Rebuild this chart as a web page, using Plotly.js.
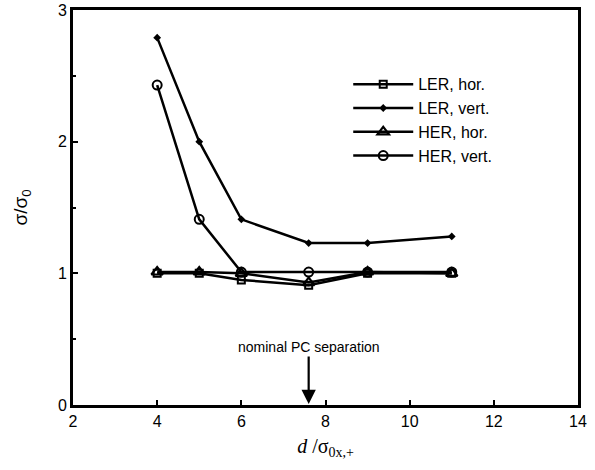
<!DOCTYPE html>
<html>
<head>
<meta charset="utf-8">
<script src="https://cdn.plot.ly/plotly-3.0.1.min.js"></script>
<style>html,body{margin:0;padding:0;background:#fff;}#chart{width:595px;height:470px;}</style>
</head>
<body>
<div id="chart"></div>
<script>
const separation = [4, 5, 6, 7.6, 9, 11];
const lerHor  = [1.00, 1.00, 0.95, 0.91, 1.00, 1.00];
const lerVert = [2.79, 2.00, 1.41, 1.23, 1.23, 1.28];
const herHor  = [1.01, 1.01, 1.00, 0.93, 1.01, 1.00];
const herVert = [2.43, 1.41, 1.01, 1.01, 1.01, 1.01];
const seriesNames = ["LER, hor.", "LER, vert.", "HER, hor.", "HER, vert."];
const nominalSep = 7.6;
const xTicks = [2, 4, 6, 8, 10, 12, 14];
const yTicks = [0, 1, 2, 3];

const lineStyle = {color: "#000", width: 2.5};
const traces = [
  {x: separation, y: lerHor, name: seriesNames[0], mode: "lines+markers", line: lineStyle,
   marker: {symbol: "square-open", size: 7, color: "#000", line: {width: 2, color: "#000"}}},
  {x: separation, y: lerVert, name: seriesNames[1], mode: "lines+markers", line: lineStyle,
   marker: {symbol: "diamond", size: 6, color: "#000"}},
  {x: separation, y: herHor, name: seriesNames[2], mode: "lines+markers", line: lineStyle,
   marker: {symbol: "triangle-up-open", size: 10, color: "#000", line: {width: 2.2, color: "#000"}}},
  {x: separation, y: herVert, name: seriesNames[3], mode: "lines+markers", line: lineStyle,
   marker: {symbol: "circle-open", size: 9, color: "#000", line: {width: 2, color: "#000"}}}
];

const fontFam = "Liberation Sans, Arial, sans-serif";
const layout = {
  width: 595, height: 470,
  margin: {l: 73, r: 17, t: 10, b: 65},
  paper_bgcolor: "#fff", plot_bgcolor: "#fff",
  font: {family: fontFam, color: "#000", size: 15},
  showlegend: true,
  legend: {x: 0.545, y: 0.855, xanchor: "left", yanchor: "top", bgcolor: "rgba(0,0,0,0)",
           font: {size: 16, family: fontFam}, itemwidth: 60, tracegroupgap: 0},
  xaxis: {range: [2, 14], tickvals: xTicks, ticktext: xTicks.map(String),
          ticks: "inside", ticklen: 5, tickwidth: 2, tickcolor: "#000",
          showline: true, linewidth: 3, linecolor: "#000", mirror: true,
          showgrid: false, zeroline: false,
          tickfont: {size: 16, family: fontFam},
          title: {text: "<i>d</i> /σ<sub>0x,+</sub>", font: {size: 20, family: "Liberation Serif, Times New Roman, serif"}, standoff: 10}},
  yaxis: {range: [0, 3], tickvals: yTicks, ticktext: yTicks.map(String),
          ticks: "inside", ticklen: 5, tickwidth: 2, tickcolor: "#000",
          minor: {dtick: 0.5, ticks: "inside", ticklen: 3, tickwidth: 2, tickcolor: "#000"},
          showline: true, linewidth: 3, linecolor: "#000", mirror: true,
          showgrid: false, zeroline: false,
          tickfont: {size: 16, family: fontFam},
          title: {text: "σ/σ<sub>0</sub>", font: {size: 19, family: fontFam}, standoff: 26}},
  annotations: [
    {x: nominalSep, y: 0, xref: "x", yref: "y", ax: 0, ay: -50, showarrow: true,
     arrowhead: 2, arrowsize: 1.3, arrowwidth: 2.2, arrowcolor: "#000", standoff: 1, text: ""},
    {x: nominalSep, y: 0, xref: "x", yref: "y", yshift: 58, showarrow: false,
     text: "nominal PC separation", font: {size: 14, family: fontFam}}
  ]
};
Plotly.newPlot("chart", traces, layout, {displayModeBar: false, staticPlot: true});
</script>
</body>
</html>
